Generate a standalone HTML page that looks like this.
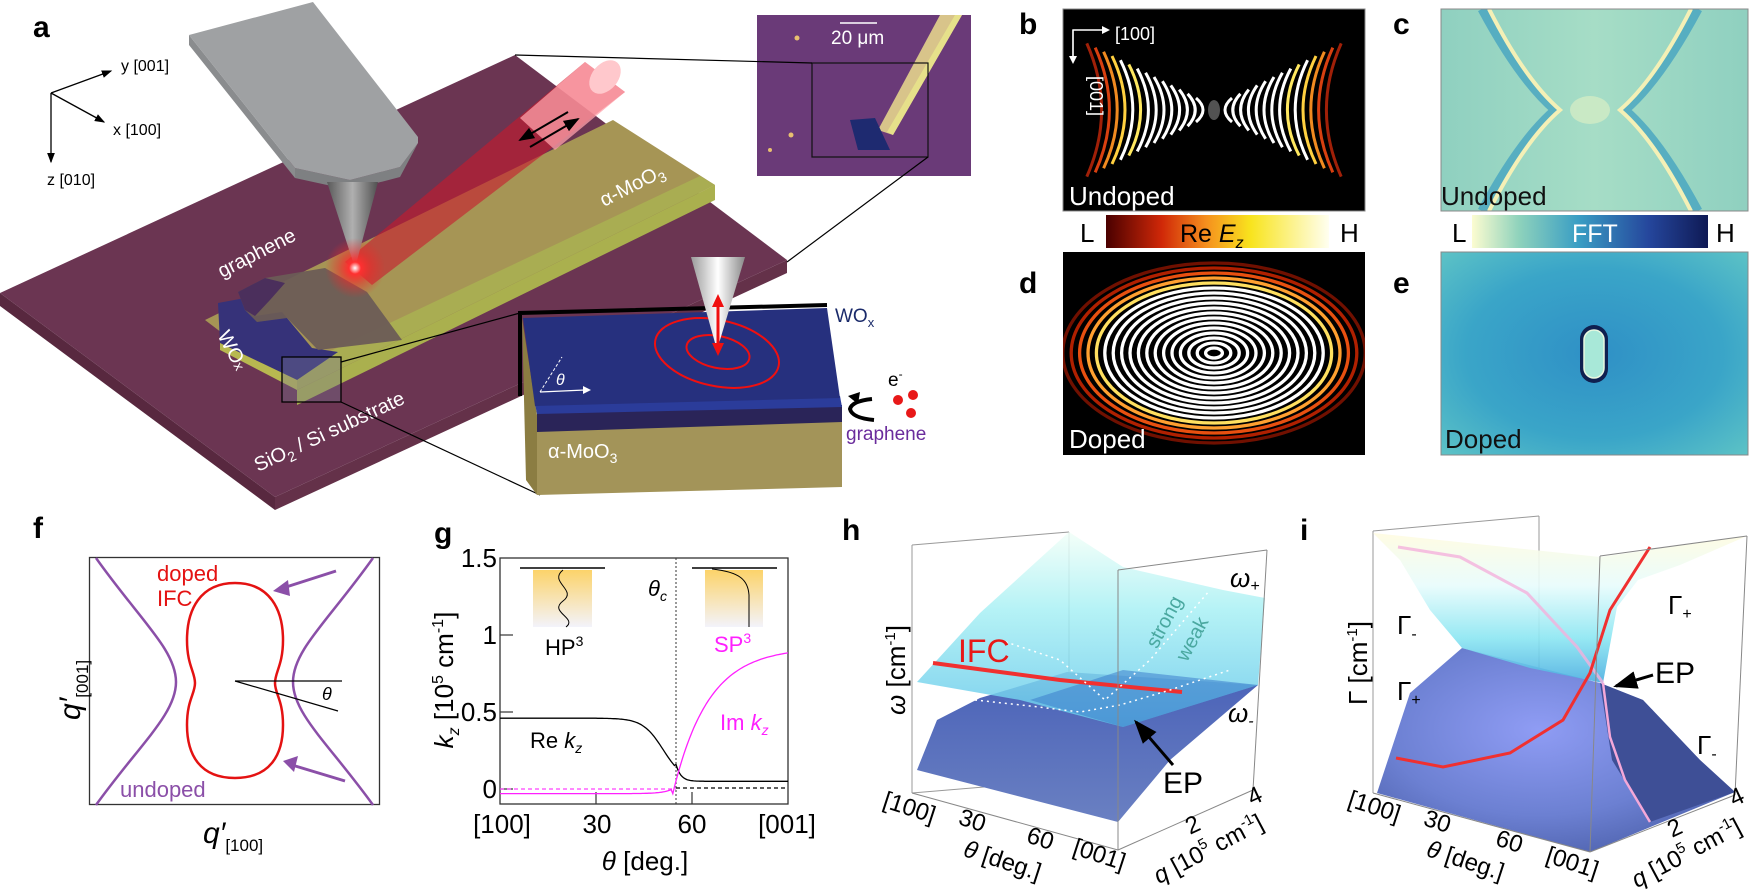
<!DOCTYPE html>
<html><head><meta charset="utf-8"><style>
html,body{margin:0;padding:0;background:#fff;}
svg{display:block;font-family:"Liberation Sans",Arial,sans-serif;}
</style></head><body>
<svg id="s" width="1750" height="890" viewBox="0 0 1750 890" xmlns="http://www.w3.org/2000/svg">
<defs>
<linearGradient id="cb1" x1="0" x2="1" y1="0" y2="0"><stop offset="0" stop-color="#4a0000"/><stop offset="0.25" stop-color="#d02808"/><stop offset="0.45" stop-color="#f5901e"/><stop offset="0.65" stop-color="#f8e41e"/><stop offset="1" stop-color="#fffff0"/></linearGradient>
<linearGradient id="cb2" x1="0" x2="1" y1="0" y2="0"><stop offset="0" stop-color="#fcfcd0"/><stop offset="0.2" stop-color="#8ed2bc"/><stop offset="0.45" stop-color="#3a9ec4"/><stop offset="0.75" stop-color="#25469c"/><stop offset="1" stop-color="#0f1a55"/></linearGradient>
<radialGradient id="spot"><stop offset="0" stop-color="#fff"/><stop offset="0.2" stop-color="#ff3030"/><stop offset="0.55" stop-color="rgba(240,40,40,0.5)"/><stop offset="1" stop-color="rgba(240,40,40,0)"/></radialGradient>
<linearGradient id="cone" x1="0" x2="1"><stop offset="0" stop-color="#5a5a5a"/><stop offset="0.5" stop-color="#b0b0b0"/><stop offset="1" stop-color="#505050"/></linearGradient>
<linearGradient id="cone2" x1="0" x2="1"><stop offset="0" stop-color="#9a9a9a"/><stop offset="0.5" stop-color="#ffffff"/><stop offset="1" stop-color="#8a8a8a"/></linearGradient>
<linearGradient id="ins" x1="0" y1="0" x2="0" y2="1"><stop offset="0" stop-color="#fcd36a"/><stop offset="1" stop-color="#f3f3fb"/></linearGradient>
<linearGradient id="cbg" x1="0" x2="1"><stop offset="0" stop-color="#8fd0c0"/><stop offset="0.5" stop-color="#a6ddc6"/><stop offset="1" stop-color="#8fd0c0"/></linearGradient>
<radialGradient id="ebg" cx="0.5" cy="0.5" r="0.7"><stop offset="0" stop-color="#2f90c6"/><stop offset="0.6" stop-color="#3aa5c8"/><stop offset="1" stop-color="#5cc2c6"/></radialGradient>
<linearGradient id="wp" x1="0" y1="0" x2="0" y2="1"><stop offset="0" stop-color="#f2fff8"/><stop offset="0.4" stop-color="#a8f0f4"/><stop offset="1" stop-color="#62c6ea"/></linearGradient>
<linearGradient id="wm" x1="0" y1="0" x2="0" y2="1"><stop offset="0" stop-color="#4a62b8"/><stop offset="1" stop-color="#6a80c2"/></linearGradient>
<linearGradient id="gp" x1="0" y1="0" x2="0" y2="1"><stop offset="0" stop-color="#fffbe0"/><stop offset="0.35" stop-color="#e8fcfc"/><stop offset="0.7" stop-color="#8be6f2"/><stop offset="1" stop-color="#4aaee0"/></linearGradient>
<radialGradient id="gm" cx="0.45" cy="0.4" r="0.7"><stop offset="0" stop-color="#8f9cf4"/><stop offset="0.6" stop-color="#6c80d2"/><stop offset="1" stop-color="#4a5ea8"/></radialGradient>
<clipPath id="cpb"><rect x="1063" y="9" width="302" height="202"/></clipPath>
<clipPath id="cpd"><rect x="1063" y="252" width="302" height="203"/></clipPath>
<clipPath id="cpc"><rect x="1441" y="9" width="307" height="202"/></clipPath>
<marker id="ah" markerWidth="8" markerHeight="8" refX="7" refY="4" orient="auto"><path d="M0,1 L8,4 L0,7 z" fill="#000"/></marker>
<marker id="ahp" markerWidth="6" markerHeight="6" refX="4" refY="3" orient="auto"><path d="M0,0 L6,3 L0,6 z" fill="#8b4fa8"/></marker>
</defs>

<!-- ===== Panel a ===== -->
<text x="33" y="37" font-size="30" font-weight="bold">a</text>
<g stroke="#000" stroke-width="1.3" fill="none">
<line x1="51" y1="93" x2="111" y2="71" marker-end="url(#ah)"/>
<line x1="51" y1="93" x2="104" y2="122" marker-end="url(#ah)"/>
<line x1="51" y1="93" x2="51" y2="162" marker-end="url(#ah)"/>
</g>
<text x="121" y="71" font-size="16">y [001]</text>
<text x="113" y="135" font-size="16">x [100]</text>
<text x="47" y="185" font-size="16">z [010]</text>

<!-- substrate -->
<polygon points="0,293 275,497 275,510 0,306" fill="#58283f"/>
<polygon points="275,497 787,260 787,273 275,510" fill="#643149"/>
<polygon points="0,293 515,55 787,260 275,497" fill="#6b3552"/>

<!-- MoO3 flake -->
<polygon points="297,390 715,185 715,200 297,405" fill="#aab04e"/>
<polygon points="205,320 613,120 715,185 297,390" fill="#a69555"/>
<polygon points="280,375 700,176 715,185 297,390" fill="#a9ad52"/>
<!-- laser beam -->
<polygon points="345,262 585,62 625,92 372,285" fill="rgba(200,25,45,0.6)"/>
<polygon points="520,118 585,62 625,92 555,150" fill="rgba(255,160,170,0.75)"/>
<ellipse cx="605" cy="77" rx="13" ry="19" transform="rotate(40 605 77)" fill="#ffc8cc"/>
<!-- graphene + WOx -->
<polygon points="218,303 245,298 255,316 282,312 312,348 338,352 297,380 220,343" fill="#363279"/>
<polygon points="220,343 297,380 297,390 220,350" fill="#b8b850"/>
<polygon points="238,292 265,278 325,268 367,292 402,340 318,350 287,318 257,322 245,310" fill="#6c5c56" opacity="0.95"/>
<polygon points="238,292 265,278 285,283 270,300 255,316 245,310" fill="#4b2f5c"/>
<rect x="282" y="357" width="59" height="45" fill="rgba(120,120,150,0.35)" stroke="#000" stroke-width="1.3"/>
<!-- cantilever -->
<polygon points="189,35 189,45 295,178 295,168" fill="#8a8c8e"/>
<polygon points="295,168 295,178 350,190 400,177 418,143 400,167 350,180" fill="#7e8082"/>
<polygon points="189,35 313,2 418,137 418,143 400,167 350,180 295,168" fill="#9fa1a3"/>
<polygon points="327,182 378,182 355,268" fill="url(#cone)"/>
<circle cx="355" cy="268" r="30" fill="url(#spot)"/>
<g stroke="#000" stroke-width="2" fill="none">
<line x1="568" y1="112" x2="520" y2="140" marker-end="url(#ah)"/>
<line x1="530" y1="147" x2="578" y2="119" marker-end="url(#ah)"/>
</g>
<text font-size="20" fill="#fff" transform="translate(222,278) rotate(-27)">graphene</text>
<text font-size="20" fill="#fff" transform="translate(604,207) rotate(-27)">α-MoO<tspan font-size="14" dy="5">3</tspan></text>
<text font-size="20" fill="#fff" transform="translate(217,335) rotate(62)">WO<tspan font-size="14">x</tspan></text>
<text font-size="20" fill="#fff" transform="translate(258,472) rotate(-25)">SiO<tspan font-size="14" dy="5">2</tspan><tspan dy="-5"> / Si substrate</tspan></text>

<!-- photo inset -->
<rect x="757" y="15" width="214" height="161" fill="#6a3a78"/>
<polygon points="940,15 962,15 893,135 878,130" fill="#d8c48a"/>
<polygon points="955,15 962,15 893,135 887,132" fill="#e6e08a"/>
<polygon points="850,120 875,118 890,150 858,150" fill="#1e2a70"/>
<circle cx="797" cy="38" r="2.5" fill="#e8c070"/><circle cx="791" cy="135" r="2.5" fill="#e8c070"/><circle cx="770" cy="150" r="2" fill="#e8c070"/>
<rect x="812" y="63" width="116" height="94" fill="none" stroke="#111" stroke-width="1.2"/>
<line x1="840" y1="23" x2="877" y2="23" stroke="#fff" stroke-width="1.5"/>
<text x="831" y="44" font-size="19" fill="#fff">20 μm</text>
<g stroke="#000" stroke-width="1.2">
<line x1="515" y1="55" x2="812" y2="63"/>
<line x1="787" y1="262" x2="928" y2="157"/>
<line x1="341" y1="362" x2="520" y2="313"/>
<line x1="341" y1="402" x2="540" y2="495"/>
</g>

<!-- zoom block -->
<polygon points="522,318 537,415 537,495 526,480" fill="#8b7d42"/>
<polygon points="537,430 842,420 842,487 537,495" fill="#a39459"/>
<polygon points="537,412 842,405 842,422 537,432" fill="#2a2458"/>
<polygon points="535,404 840,396 842,407 537,414" fill="#2b3c9a"/>
<polygon points="523,318 827,308 840,398 535,406" fill="#26307e"/>
<polyline points="520,396 520,313 827,305" fill="none" stroke="#000" stroke-width="4"/>
<ellipse cx="717" cy="353" rx="63" ry="33" transform="rotate(12 717 353)" fill="none" stroke="#f01010" stroke-width="2"/>
<ellipse cx="718" cy="352" rx="32" ry="16" transform="rotate(12 718 352)" fill="none" stroke="#f01010" stroke-width="2"/>
<polygon points="691,257 745,257 717,350" fill="url(#cone2)"/>
<line x1="718" y1="305" x2="718" y2="345" stroke="#f01010" stroke-width="3"/>
<polygon points="712,307 724,307 718,294" fill="#f01010"/><polygon points="712,343 724,343 718,356" fill="#f01010"/>
<line x1="540" y1="392" x2="562" y2="357" stroke="#fff" stroke-width="1" stroke-dasharray="3,2"/>
<line x1="540" y1="392" x2="585" y2="390" stroke="#fff" stroke-width="1.2"/>
<polygon points="583,386 591,390 583,394" fill="#fff"/>
<text x="556" y="385" font-size="16" font-style="italic" fill="#fff">θ</text>
<text x="835" y="322" font-size="19" fill="#1a2a6a">WO<tspan font-size="13" dy="5">x</tspan></text>
<text x="888" y="386" font-size="19" fill="#000">e<tspan font-size="12" dy="-8">-</tspan></text>
<circle cx="898" cy="400" r="5" fill="#e81818"/><circle cx="913" cy="395" r="5" fill="#e81818"/><circle cx="911" cy="413" r="5" fill="#e81818"/>
<path d="M872,399 Q852,401 850,409 Q852,418 874,420" fill="none" stroke="#000" stroke-width="4"/>
<polygon points="848,396 860,392 858,404" fill="#000"/>
<text x="846" y="440" font-size="19" fill="#6a2c9c">graphene</text>
<text x="548" y="458" font-size="20" fill="#fff">α-MoO<tspan font-size="14" dy="5">3</tspan></text>

<!-- ===== Panels b-e ===== -->
<text x="1019" y="34" font-size="30" font-weight="bold">b</text>
<text x="1393" y="34" font-size="30" font-weight="bold">c</text>
<text x="1019" y="293" font-size="30" font-weight="bold">d</text>
<text x="1393" y="293" font-size="30" font-weight="bold">e</text>
<rect x="1063" y="9" width="302" height="202" fill="#000"/>
<g id="bfr" clip-path="url(#cpb)"></g>
<g stroke="#fff" stroke-width="1.4" fill="none">
<polyline points="1073,60 1073,30 1103,30"/><line x1="1073" y1="30" x2="1073" y2="58"/>
</g>
<polygon points="1102,26 1110,30 1102,34" fill="#fff"/><polygon points="1069,56 1073,64 1077,56" fill="#fff"/>
<text x="1115" y="40" font-size="18" fill="#fff">[100]</text>
<text font-size="18" fill="#fff" transform="translate(1090,76) rotate(90)">[001]</text>
<text x="1069" y="205" font-size="26" fill="#fff">Undoped</text>

<rect x="1441" y="9" width="307" height="202" fill="url(#cbg)"/>
<g clip-path="url(#cpc)" fill="none">
<path d="M1482,9 Q1520,80 1555,110 Q1520,140 1482,211" stroke="#3a9cc0" stroke-width="9" opacity="0.7"/>
<path d="M1698,9 Q1660,80 1625,110 Q1660,140 1698,211" stroke="#3a9cc0" stroke-width="9" opacity="0.7"/>
<path d="M1489,9 Q1525,80 1560,110 Q1525,140 1489,211" stroke="#f4f0b6" stroke-width="4"/>
<path d="M1691,9 Q1655,80 1620,110 Q1655,140 1691,211" stroke="#f4f0b6" stroke-width="4"/>
<ellipse cx="1590" cy="110" rx="20" ry="14" fill="#d8eec4" opacity="0.7"/>
</g>
<text x="1441" y="205" font-size="26" fill="#111">Undoped</text>

<text x="1080" y="242" font-size="26">L</text>
<rect x="1106" y="215" width="223" height="33" fill="url(#cb1)"/>
<text x="1180" y="242" font-size="25">Re <tspan font-style="italic">E</tspan><tspan font-style="italic" font-size="16" dy="6">z</tspan></text>
<text x="1340" y="242" font-size="26">H</text>
<text x="1452" y="242" font-size="26">L</text>
<rect x="1472" y="215" width="236" height="33" fill="url(#cb2)"/>
<text x="1572" y="242" font-size="25" fill="#fff">FFT</text>
<text x="1716" y="242" font-size="26">H</text>

<rect x="1063" y="252" width="302" height="203" fill="#000"/>
<g id="dfr" clip-path="url(#cpd)"></g>
<text x="1069" y="448" font-size="26" fill="#fff">Doped</text>

<rect x="1441" y="252" width="307" height="203" fill="url(#ebg)"/>
<rect x="1580" y="325" width="28" height="58" rx="14" fill="#0f2050"/>
<rect x="1584" y="330" width="20" height="48" rx="10" fill="#a8e8d8" stroke="#e8f8e0" stroke-width="1.5"/>
<text x="1445" y="448" font-size="26" fill="#111">Doped</text>
<rect x="1063" y="9" width="302" height="202" fill="none" stroke="#888" stroke-width="1"/>
<rect x="1441" y="9" width="307" height="202" fill="none" stroke="#888" stroke-width="1"/>
<rect x="1441" y="252" width="307" height="203" fill="none" stroke="#888" stroke-width="1"/>

<!-- ===== Panel f ===== -->
<text x="33" y="538" font-size="30" font-weight="bold">f</text>
<rect x="89.5" y="557.5" width="290" height="247" fill="none" stroke="#333" stroke-width="1.3"/>
<g fill="none" stroke="#8b4fa8" stroke-width="2.5">
<path d="M96,558 C140,620 176,650 176,682 C176,714 140,744 96,805"/>
<path d="M373,558 C329,620 293,650 293,682 C293,714 329,744 373,805"/>
</g>
<path d="M235,583 C270,583 283,610 283,640 C283,665 275,672 275,683 C275,694 283,700 283,725 C283,755 270,778 235,778 C200,778 187,755 187,725 C187,700 195,694 195,683 C195,672 187,665 187,640 C187,610 200,583 235,583 Z" fill="none" stroke="#e41212" stroke-width="2.5"/>
<g stroke="#8b4fa8" stroke-width="3">
<line x1="336" y1="571" x2="283" y2="588"/><line x1="345" y1="781" x2="292" y2="765"/>
</g>
<polygon points="273,591 288,580 290,596" fill="#8b4fa8"/>
<polygon points="283,761 298,756 294,772" fill="#8b4fa8"/>
<text x="157" y="581" font-size="22" fill="#e41212">doped</text>
<text x="157" y="606" font-size="22" fill="#e41212">IFC</text>
<text x="120" y="797" font-size="22" fill="#8b4fa8">undoped</text>
<g stroke="#000" stroke-width="1.2"><line x1="235" y1="681" x2="342" y2="681"/><line x1="235" y1="681" x2="338" y2="711"/></g>
<text x="322" y="700" font-size="18" font-style="italic">θ</text>
<text font-size="30" transform="translate(80,720) rotate(-90)"><tspan font-style="italic">q′</tspan><tspan font-size="17" dy="8">[001]</tspan></text>
<text x="203" y="843" font-size="30"><tspan font-style="italic">q′</tspan><tspan font-size="17" dy="8">[100]</tspan></text>

<!-- ===== Panel g ===== -->
<text x="434" y="543" font-size="30" font-weight="bold">g</text>
<rect x="500" y="558" width="288" height="246" fill="none" stroke="#333" stroke-width="1.3"/>
<g stroke="#333" stroke-width="1.2">
<line x1="500" y1="635" x2="513" y2="635"/><line x1="500" y1="712" x2="513" y2="712"/><line x1="500" y1="789" x2="513" y2="789"/>
<line x1="596" y1="804" x2="596" y2="792"/><line x1="692" y1="804" x2="692" y2="792"/>
</g>
<line x1="676" y1="558" x2="676" y2="804" stroke="#333" stroke-width="1" stroke-dasharray="2,2"/>
<g font-size="26" text-anchor="end"><text x="497" y="567">1.5</text><text x="497" y="644">1</text><text x="497" y="721">0.5</text><text x="497" y="798">0</text></g>
<g font-size="26" text-anchor="middle"><text x="502" y="833">[100]</text><text x="597" y="833">30</text><text x="692" y="833">60</text><text x="787" y="833">[001]</text></g>
<text x="645" y="870" font-size="26" text-anchor="middle"><tspan font-style="italic">θ</tspan> [deg.]</text>
<text font-size="26" text-anchor="middle" transform="translate(453,680) rotate(-90)"><tspan font-style="italic">k</tspan><tspan font-style="italic" font-size="16" dy="6">z</tspan><tspan dy="-6"> [10</tspan><tspan font-size="16" dy="-10">5</tspan><tspan dy="10"> cm</tspan><tspan font-size="16" dy="-10">-1</tspan><tspan dy="10">]</tspan></text>
<rect x="533" y="570" width="59" height="57" fill="url(#ins)"/>
<line x1="520" y1="568" x2="605" y2="568" stroke="#000" stroke-width="1.5"/>
<path d="M563,570 C548,582 578,590 563,601 C548,612 578,618 566,627" fill="none" stroke="#000" stroke-width="1"/>
<rect x="705" y="570" width="58" height="57" fill="url(#ins)"/>
<line x1="692" y1="568" x2="777" y2="568" stroke="#000" stroke-width="1.5"/>
<path d="M712,569 C740,572 748,580 749,595 L749,627" fill="none" stroke="#000" stroke-width="1"/>
<text x="545" y="655" font-size="22">HP<tspan font-size="14" dy="-9">3</tspan></text>
<text x="714" y="652" font-size="22" fill="#ff20ff">SP<tspan font-size="14" dy="-9">3</tspan></text>
<text x="648" y="596" font-size="22" font-style="italic">θ<tspan font-size="14" dy="5">c</tspan></text>
<text x="530" y="748" font-size="22">Re <tspan font-style="italic">k</tspan><tspan font-style="italic" font-size="14" dy="5">z</tspan></text>
<text x="720" y="730" font-size="22" fill="#ff20ff">Im <tspan font-style="italic">k</tspan><tspan font-style="italic" font-size="14" dy="5">z</tspan></text>
<g id="gcurves"></g>

<!-- ===== Panel h ===== -->
<text x="842" y="540" font-size="30" font-weight="bold">h</text>
<g stroke="#999" stroke-width="1" fill="none">
<line x1="912" y1="545" x2="912" y2="793"/><line x1="912" y1="545" x2="1069" y2="532"/><line x1="1069" y1="532" x2="1069" y2="780"/>
<line x1="912" y1="793" x2="1069" y2="780"/>
</g>
<polygon points="917,770 937,720 980,698 1067,672 1258,685 1170,760 1118,822" fill="url(#wm)"/>
<polygon points="917,682 980,613 1069,532 1123,567 1223,590 1265,598 1258,685 1123,727 1020,700" fill="url(#wp)" opacity="0.85"/>
<polygon points="1030,700 1123,670 1258,685 1123,727" fill="#3c7dcc" opacity="0.55"/>
<polyline points="933,663 1000,672 1060,680 1120,686 1182,692" fill="none" stroke="#f03030" stroke-width="4"/>
<polyline points="975,700 1030,706 1080,712 1120,705 1170,690 1230,670" fill="none" stroke="#fff" stroke-width="1.5" stroke-dasharray="2,4"/>
<polyline points="1000,640 1060,660 1105,700 1150,660 1210,590" fill="none" stroke="#fff" stroke-width="1.5" stroke-dasharray="2,4"/>
<g stroke="#888" stroke-width="1" fill="none">
<line x1="912" y1="793" x2="1118" y2="850"/><line x1="1118" y1="850" x2="1253" y2="790"/>
<line x1="1118" y1="570" x2="1118" y2="850"/><line x1="1118" y1="570" x2="1267" y2="550"/><line x1="1267" y1="550" x2="1253" y2="790"/>
</g>
<text x="958" y="662" font-size="32" fill="#e81818">IFC</text>
<text font-size="20" fill="#4aa8a0" text-anchor="middle" transform="translate(1170,625) rotate(-62)">strong</text>
<text font-size="20" fill="#4aa8a0" text-anchor="middle" transform="translate(1198,642) rotate(-62)">weak</text>
<text x="1230" y="587" font-size="26" font-style="italic">ω<tspan font-size="16" dy="4">+</tspan></text>
<text x="1228" y="722" font-size="26" font-style="italic">ω<tspan font-size="16" dy="4">-</tspan></text>
<text x="1163" y="793" font-size="30">EP</text>
<line x1="1173" y1="765" x2="1136" y2="722" stroke="#000" stroke-width="3" marker-end="url(#ah)"/>
<text font-size="26" text-anchor="middle" transform="translate(905,670) rotate(-90)"><tspan font-style="italic">ω</tspan> [cm<tspan font-size="15" dy="-10">-1</tspan><tspan dy="10">]</tspan></text>
<g font-size="24" text-anchor="middle">
<text transform="translate(907,815) rotate(18)">[100]</text>
<text transform="translate(970,828) rotate(18)">30</text>
<text transform="translate(1038,846) rotate(18)">60</text>
<text transform="translate(1097,862) rotate(18)">[001]</text>
<text transform="translate(1000,868) rotate(18)"><tspan font-style="italic">θ</tspan> [deg.]</text>
<text transform="translate(1196,832) rotate(-25)">2</text>
<text transform="translate(1258,803) rotate(-25)">4</text>
<text transform="translate(1212,856) rotate(-28)"><tspan font-style="italic">q</tspan> [10<tspan font-size="15" dy="-10">5</tspan><tspan dy="10"> cm</tspan><tspan font-size="15" dy="-10">-1</tspan><tspan dy="10">]</tspan></text>
</g>

<!-- ===== Panel i ===== -->
<text x="1300" y="540" font-size="30" font-weight="bold">i</text>
<g stroke="#999" stroke-width="1" fill="none">
<line x1="1373" y1="531" x2="1373" y2="793"/><line x1="1373" y1="531" x2="1539" y2="516"/><line x1="1539" y1="516" x2="1539" y2="780"/>
</g>
<polygon points="1377,793 1410,693 1462,648 1600,683 1643,700 1700,760 1735,792 1590,852" fill="url(#gm)"/>
<polygon points="1600,683 1643,700 1700,760 1735,792 1650,822 1612,760" fill="#3e4f96"/>
<polygon points="1373,533 1600,557 1747,536 1680,565 1638,580 1617,607 1603,683 1530,668 1462,648 1430,610 1400,560" fill="url(#gp)" opacity="0.9"/>
<polyline points="1398,547 1460,557 1527,593 1577,647 1603,683" fill="none" stroke="#f4b0dc" stroke-width="3" opacity="0.8"/>
<polyline points="1603,683 1610,737 1625,780 1650,822" fill="none" stroke="#f4a8d8" stroke-width="2.5"/>
<polyline points="1396,758 1443,767 1510,753 1563,720 1590,673 1610,610 1650,547" fill="none" stroke="#f03030" stroke-width="3"/>
<g stroke="#888" stroke-width="1" fill="none">
<line x1="1373" y1="793" x2="1590" y2="852"/><line x1="1590" y1="852" x2="1735" y2="795"/>
<line x1="1600" y1="556" x2="1590" y2="852"/><line x1="1600" y1="556" x2="1747" y2="536"/><line x1="1747" y1="536" x2="1735" y2="795"/>
</g>
<text x="1397" y="634" font-size="26">Γ<tspan font-size="16" dy="5">-</tspan></text>
<text x="1397" y="700" font-size="26">Γ<tspan font-size="16" dy="5">+</tspan></text>
<text x="1668" y="614" font-size="26">Γ<tspan font-size="16" dy="5">+</tspan></text>
<text x="1697" y="754" font-size="26">Γ<tspan font-size="16" dy="5">-</tspan></text>
<text x="1655" y="683" font-size="30">EP</text>
<line x1="1653" y1="675" x2="1616" y2="686" stroke="#000" stroke-width="3" marker-end="url(#ah)"/>
<text font-size="26" text-anchor="middle" transform="translate(1367,663) rotate(-90)">Γ [cm<tspan font-size="15" dy="-10">-1</tspan><tspan dy="10">]</tspan></text>
<g font-size="24" text-anchor="middle">
<text transform="translate(1372,814) rotate(18)">[100]</text>
<text transform="translate(1435,829) rotate(18)">30</text>
<text transform="translate(1507,849) rotate(18)">60</text>
<text transform="translate(1570,870) rotate(18)">[001]</text>
<text transform="translate(1463,868) rotate(18)"><tspan font-style="italic">θ</tspan> [deg.]</text>
<text transform="translate(1678,835) rotate(-25)">2</text>
<text transform="translate(1740,804) rotate(-25)">4</text>
<text transform="translate(1690,860) rotate(-28)"><tspan font-style="italic">q</tspan> [10<tspan font-size="15" dy="-10">5</tspan><tspan dy="10"> cm</tspan><tspan font-size="15" dy="-10">-1</tspan><tspan dy="10">]</tspan></text>
</g>
</svg>
<script>
(function(){
var NS="http://www.w3.org/2000/svg";
function el(p,tag,a){var e=document.createElementNS(NS,tag);for(var k in a)e.setAttribute(k,a[k]);p.appendChild(e);return e;}
// b fringes
var b=document.getElementById("bfr"),cx=1214,cy=110;
var cols=["#fff","#fff","#fff","#fff","#fff","#fff","#fff","#fff","#ffe860","#fff","#ffd040","#f08a20","#d84010","#a02008"];
for(var i=0;i<14;i++){
 var xm=12+i*7.2,xe=xm+6+i*1.2,h=12+i*4.2;
 [-1,1].forEach(function(s){
  el(b,"path",{d:"M"+(cx+s*xe)+","+(cy-h)+" Q"+(cx+s*(xm-8))+","+cy+" "+(cx+s*xe)+","+(cy+h),fill:"none",stroke:cols[i],"stroke-width":3});
 });
}
el(b,"ellipse",{cx:cx,cy:cy,rx:6,ry:10,fill:"#888",opacity:0.6});
// d ellipses
var d=document.getElementById("dfr"),dc=["#fff"];
for(var k=18;k>=1;k--){
 var c=k<=13?"#fff":(k==14?"#ffe060":k==15?"#ffa030":k==16?"#e85010":k==17?"#b02000":"#701000");
 el(d,"ellipse",{cx:1214,cy:353,rx:k*8.4,ry:k*5.0,fill:"none",stroke:c,"stroke-width":3.3});
}
// g curves
var g=document.getElementById("gcurves");
function X(t){return 500+3.2*t;} function Y(v){return 789-154*v;}
var re="",im="";
for(var t=0;t<=90;t+=0.5){
 var r=t<55?0.05+0.41/(1+Math.exp((t-51)/3.2)):0.05+0.11*Math.exp(-(t-55)/1.5);
 var m=t<54?-0.03+0.03*Math.exp((t-54)/3):-0.03+0.95*(1-Math.exp(-(t-54)/11));
 re+=(t?" L":"M")+X(t).toFixed(1)+","+Y(r).toFixed(1);
 im+=(t?" L":"M")+X(t).toFixed(1)+","+Y(m).toFixed(1);
}
el(g,"path",{d:"M500,789 L676,789",stroke:"#ff40ff","stroke-width":1.2,"stroke-dasharray":"4,3",fill:"none"});
el(g,"path",{d:"M676,788 L788,788",stroke:"#000","stroke-width":1.2,"stroke-dasharray":"4,3",fill:"none"});
el(g,"path",{d:re,stroke:"#000","stroke-width":1.3,fill:"none"});
el(g,"path",{d:im,stroke:"#ff20ff","stroke-width":1.3,fill:"none"});
})();
</script>
</body></html>
